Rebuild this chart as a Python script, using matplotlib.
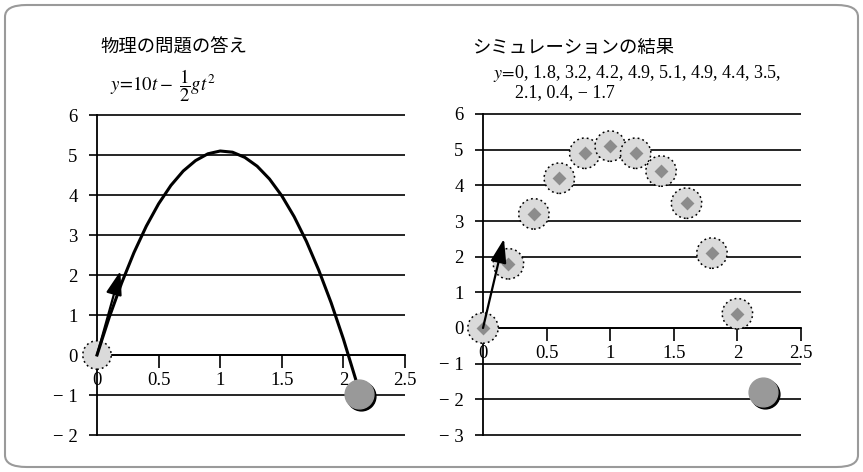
import matplotlib

matplotlib.use("Agg")
import matplotlib.pyplot as plt
import matplotlib.transforms as mtransforms
from matplotlib.patches import FancyBboxPatch

plt.rcParams["font.family"] = ["Liberation Serif", "DejaVu Serif"]
plt.rcParams["mathtext.fontset"] = "stix"

# left panel: the physics answer y = 10t - 1/2 g t^2
curve_t = [0.0, 0.1, 0.2, 0.3, 0.4, 0.5, 0.6, 0.7, 0.8, 0.9, 1.0,
           1.1, 1.2, 1.3, 1.4, 1.5, 1.6, 1.7, 1.8, 1.9, 2.0, 2.1]
curve_y = [0.0, 0.95, 1.80, 2.56, 3.22, 3.78, 4.24, 4.60, 4.86, 5.03, 5.10,
           5.07, 4.94, 4.72, 4.40, 3.98, 3.46, 2.84, 2.12, 1.31, 0.40, -0.61]
left_ball = (2.13, -0.97)
left_arrow = ((0.0, 0.0), (0.19, 2.1))
left_yticks = [-2, -1, 0, 1, 2, 3, 4, 5, 6]

# right panel: simulation result
sim_t = [0.0, 0.2, 0.4, 0.6, 0.8, 1.0, 1.2, 1.4, 1.6, 1.8, 2.0]
sim_y = [0.0, 1.8, 3.2, 4.2, 4.9, 5.1, 4.9, 4.4, 3.5, 2.1, 0.4]
right_ball = (2.2, -1.8)
right_arrow = ((0.0, 0.0), (0.165, 2.5))
right_yticks = [-3, -2, -1, 0, 1, 2, 3, 4, 5, 6]

xticks = [0, 0.5, 1, 1.5, 2, 2.5]
xtick_labels = ["0", "0.5", "1", "1.5", "2", "2.5"]

W, H = 863, 472
fig = plt.figure(figsize=(W / 100, H / 100), dpi=100)

frame = FancyBboxPatch((5 / W, 5 / H), (W - 10) / W, (H - 10) / H,
                       boxstyle="round,pad=0,rounding_size=0.025",
                       transform=fig.transFigure, facecolor="white",
                       edgecolor="#9a9a9a", linewidth=1.5, zorder=-10)
fig.patches.append(frame)


def px_axes(x0, x1, y_top, y_bot):
    return fig.add_axes([x0 / W, 1 - y_bot / H, (x1 - x0) / W, (y_bot - y_top) / H])


def style_axes(ax, yticks):
    ax.set_xlim(0, 2.5)
    ax.set_ylim(yticks[0], yticks[-1])
    ax.patch.set_visible(False)
    for side in ("top", "right"):
        ax.spines[side].set_visible(False)
    ax.spines["bottom"].set_position(("data", 0))
    ax.spines["left"].set_linewidth(1.3)
    ax.spines["bottom"].set_linewidth(1.3)
    ax.hlines(yticks, 0, 2.5, color="black", linewidth=1.2, clip_on=False, zorder=1)
    ax.set_xticks(xticks, labels=xtick_labels)
    ax.set_yticks(yticks, labels=[f"− {-v}" if v < 0 else str(v) for v in yticks])
    ax.tick_params(axis="x", direction="out", length=9, width=1.2, pad=3, labelsize=13.5)
    ax.tick_params(axis="y", direction="out", length=6, width=1.2, pad=8, labelsize=13.5)


def draw_ball(ax, pos):
    shadow = mtransforms.offset_copy(ax.transData, fig=fig, x=2, y=-2, units="dots")
    ax.scatter([pos[0]], [pos[1]], s=430, color="black", transform=shadow,
               clip_on=False, zorder=5)
    ax.scatter([pos[0]], [pos[1]], s=430, color="#999999", clip_on=False, zorder=6)


def draw_arrow(ax, arrow):
    ax.annotate("", xy=arrow[1], xytext=arrow[0],
                arrowprops=dict(arrowstyle="-|>,head_length=0.9,head_width=0.3",
                                color="black", lw=1.6, mutation_scale=16,
                                shrinkA=0, shrinkB=0),
                zorder=7)


# left panel
ax1 = px_axes(97, 405, 115, 435)
style_axes(ax1, left_yticks)
ax1.scatter([0], [0], s=420, facecolor="#dadada", edgecolor="black",
            linewidth=1.1, linestyle=(0, (1.2, 2)), clip_on=False, zorder=3)
ax1.plot(curve_t, curve_y, color="black", linewidth=2.2, zorder=4, clip_on=False)
draw_ball(ax1, left_ball)
draw_arrow(ax1, left_arrow)

# right panel
ax2 = px_axes(483, 801, 114, 435)
style_axes(ax2, right_yticks)
ax2.scatter(sim_t, sim_y, s=480, facecolor="#dadada", edgecolor="black",
            linewidth=1.1, linestyle=(0, (1.2, 2)), clip_on=False, zorder=3)
ax2.scatter(sim_t, sim_y, s=50, marker="D", color="#8c8c8c", linewidth=0,
            clip_on=False, zorder=4)
draw_ball(ax2, right_ball)
draw_arrow(ax2, right_arrow)

# titles and formulas
cjk = ["Noto Sans CJK JP", "DejaVu Sans"]
fig.text(100 / W, 1 - 48 / H, "物理の問題の答え", family=cjk, fontsize=13.2,
         ha="left", va="center")
fig.text(110 / W, 1 - 86 / H, r"$y\!=\!10t-\ \dfrac{1}{2}gt^2$", fontsize=13.5,
         ha="left", va="center")
fig.text(472 / W, 1 - 48 / H, "シミュレーションの結果", family=cjk, fontsize=13.2,
         ha="left", va="center")
fig.text(493 / W, 1 - 73 / H, r"$y\!=\!$0, 1.8, 3.2, 4.2, 4.9, 5.1, 4.9, 4.4, 3.5,",
         fontsize=13, ha="left", va="center")
fig.text(515 / W, 1 - 93 / H, "2.1, 0.4, − 1.7", fontsize=13, ha="left", va="center")

fig.savefig("out.png", dpi=100)
